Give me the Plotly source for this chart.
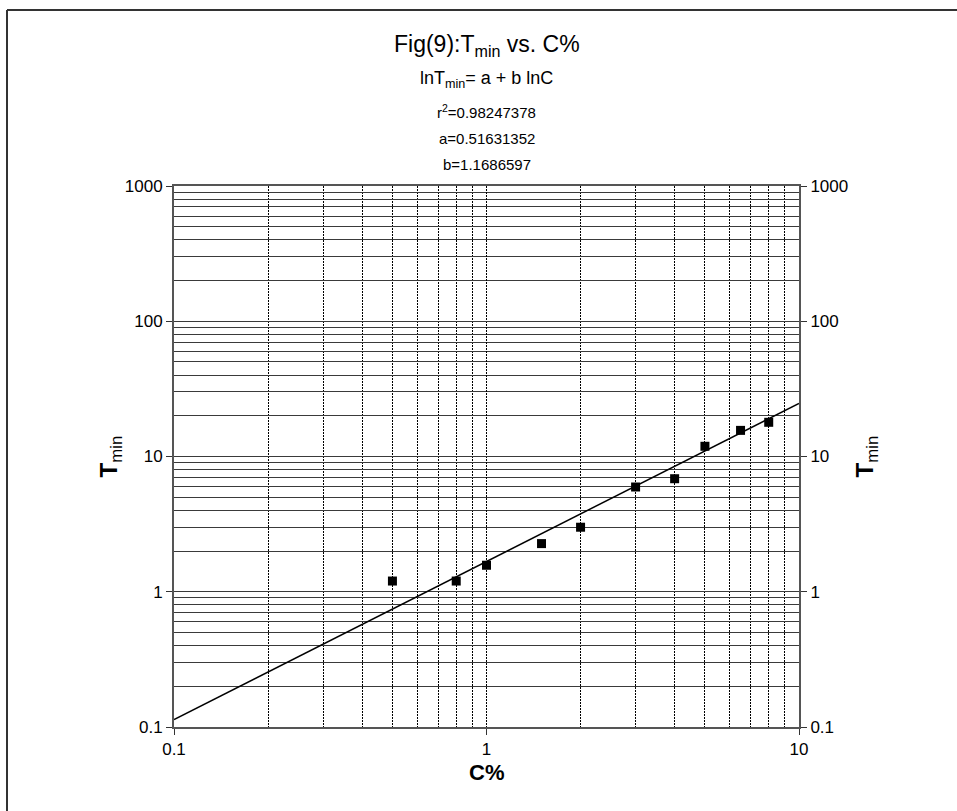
import plotly.graph_objects as go

# Data
c_pct = [0.5, 0.8, 1.0, 1.5, 2.0, 3.0, 4.0, 5.0, 6.5, 8.0]
t_min = [1.2, 1.2, 1.57, 2.27, 3.0, 5.95, 6.85, 11.9, 15.6, 17.9]

# Regression line endpoints (lnT = a + b lnC)
fit_c = [0.1, 10]
fit_t = [0.1135, 24.7]

title_lines = ["Fig(9):T<sub>min</sub> vs. C%", "lnT<sub>min</sub>= a + b lnC",
               "r<sup>2</sup>=0.98247378", "a=0.51631352", "b=1.1686597"]

x_major = [0.1, 1, 10]
x_labels = ["0.1", "1", "10"]
y_major = [0.1, 1, 10, 100, 1000]
y_labels = ["0.1", "1", "10", "100", "1000"]

x_minor = [m * 10 ** e for e in (-1, 0) for m in range(2, 10)]
y_minor = [m * 10 ** e for e in (-1, 0, 1, 2) for m in range(2, 10)]

FONT = "Liberation Sans Narrow, Arial Narrow, Liberation Sans, Arial, sans-serif"

W, H = 957, 811
L, R, T, B = 174, 158, 186, 84
pw, ph = W - L - R, H - T - B


def px(x):
    return (x - L) / pw


def py(y):
    return (H - B - y) / ph


fig = go.Figure()
fig.add_trace(go.Scatter(x=fit_c, y=fit_t, mode="lines",
                         line=dict(color="black", width=1.5), showlegend=False,
                         hoverinfo="skip"))
fig.add_trace(go.Scatter(x=c_pct, y=t_min, mode="markers",
                         marker=dict(symbol="square", size=9, color="black"),
                         showlegend=False))
fig.add_trace(go.Scatter(x=[1], y=[1], yaxis="y2", mode="markers",
                         marker=dict(opacity=0), showlegend=False, hoverinfo="skip"))

axis_line = dict(showline=True, linecolor="#555555", linewidth=2)
XDASH = "2px,1px"

fig.update_layout(
    width=W, height=H,
    margin=dict(l=L, r=R, t=T, b=B, autoexpand=False),
    paper_bgcolor="white", plot_bgcolor="white",
    font=dict(family=FONT, color="black", size=16),
    xaxis=dict(type="log", range=[-1, 1], tickvals=x_major, ticktext=x_labels,
               ticks="outside", ticklen=6, tickcolor="#333", tickwidth=1,
               showgrid=True, gridcolor="black", gridwidth=1, griddash=XDASH,
               minor=dict(tickvals=x_minor, showgrid=True, gridcolor="black",
                          gridwidth=1, griddash=XDASH, ticks=""),
               mirror=True, zeroline=False, tickfont=dict(size=17),
               **axis_line),
    yaxis=dict(type="log", range=[-1, 3], tickvals=y_major, ticktext=y_labels,
               ticks="outside", ticklen=6, tickcolor="#333", tickwidth=1,
               showgrid=True, gridcolor="#3a3a3a", gridwidth=1,
               minor=dict(tickvals=y_minor, showgrid=True, gridcolor="#3a3a3a",
                          gridwidth=1, ticks=""),
               zeroline=False, tickfont=dict(size=17), **axis_line),
    yaxis2=dict(type="log", range=[-1, 3], overlaying="y", side="right",
                tickvals=y_major, ticktext=y_labels, ticks="outside", ticklen=6,
                tickcolor="#333", showgrid=False, zeroline=False,
                tickfont=dict(size=17), **axis_line),
)

# Title block
title_y = [45, 80, 111, 138, 165]
title_sizes = [23, 18, 15, 15, 15]
for txt, yy, sz in zip(title_lines, title_y, title_sizes):
    fig.add_annotation(text=txt, xref="paper", yref="paper", x=0.5, y=py(yy),
                       xanchor="center", yanchor="middle", showarrow=False,
                       font=dict(size=sz, family=FONT))

# Axis titles
fig.add_annotation(text="<b>C%</b>", xref="paper", yref="paper", x=0.5, y=py(772),
                   xanchor="center", yanchor="middle", showarrow=False,
                   font=dict(size=22, family=FONT))
for xx in (110, 866):
    fig.add_annotation(text="<b>T</b><sub>min</sub>", xref="paper", yref="paper",
                       x=px(xx), y=0.5, xanchor="center", yanchor="middle",
                       textangle=-90, showarrow=False,
                       font=dict(size=24, family=FONT))

# Outer frame (top and left edges visible)
fig.add_shape(type="line", xref="paper", yref="paper", x0=px(7), x1=px(960),
              y0=py(10), y1=py(10), line=dict(color="#333333", width=2))
fig.add_shape(type="line", xref="paper", yref="paper", x0=px(7), x1=px(7),
              y0=py(10), y1=py(815), line=dict(color="#333333", width=2))

fig.write_html("out.html")
